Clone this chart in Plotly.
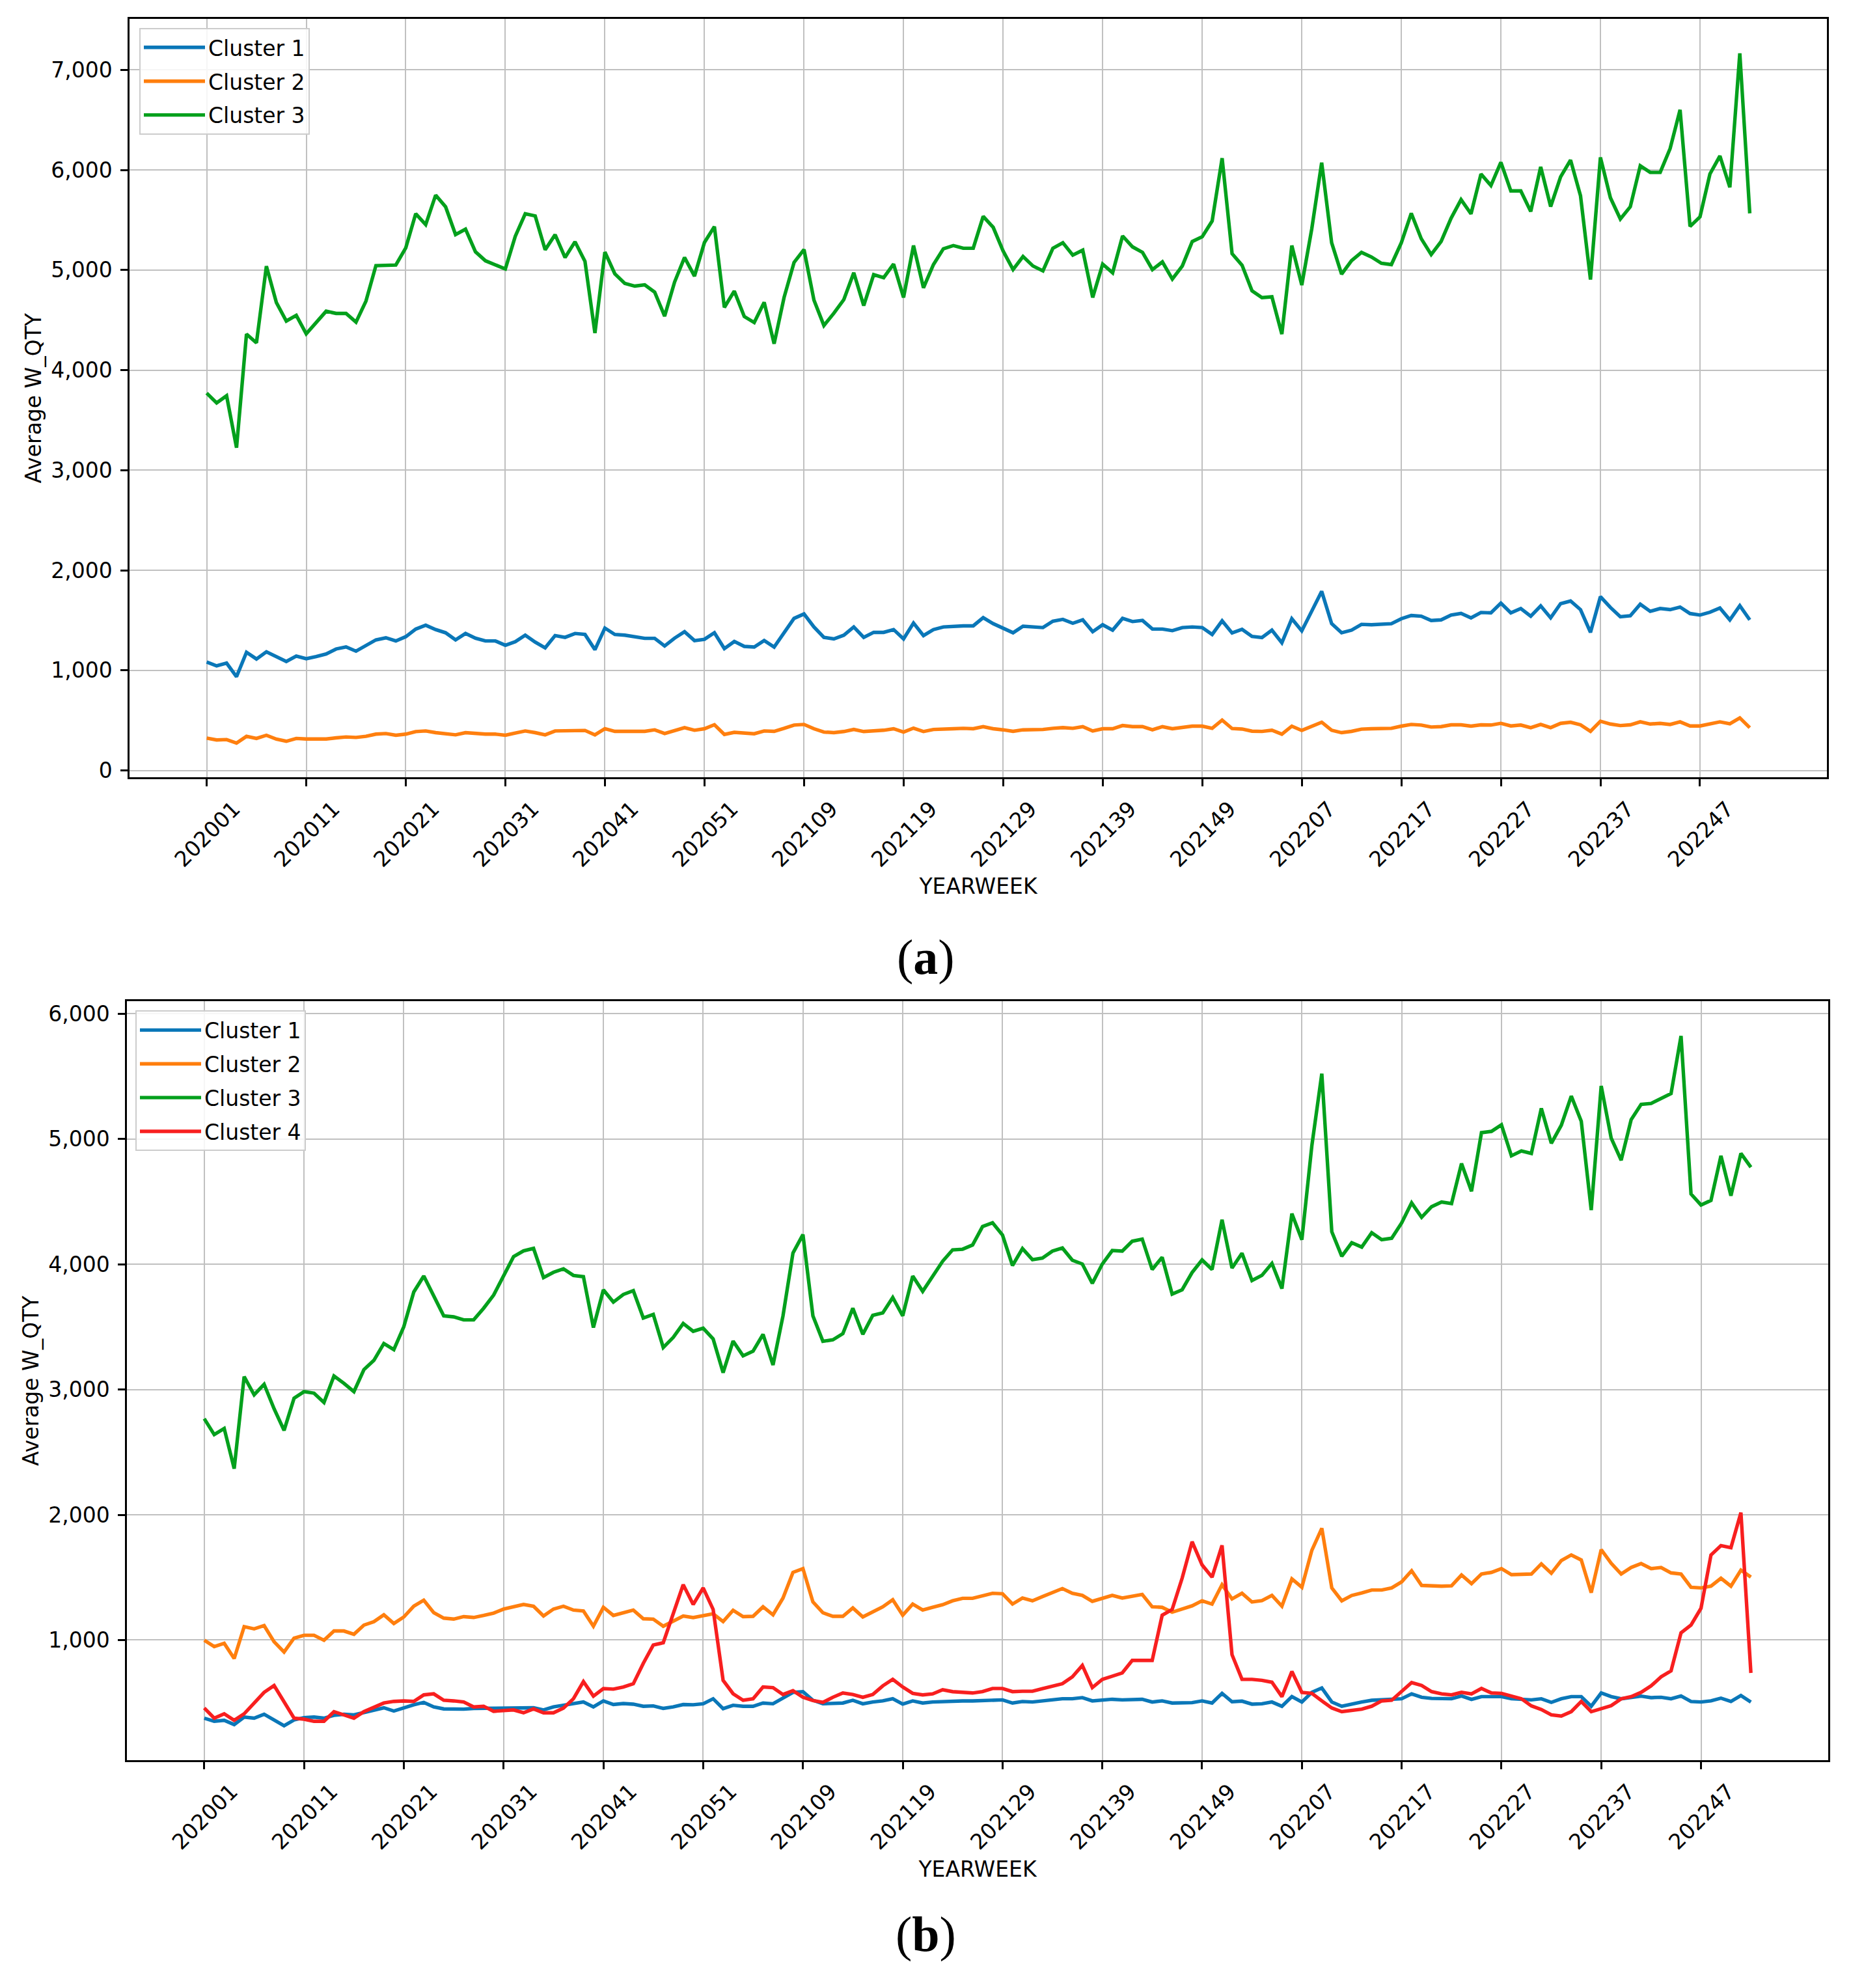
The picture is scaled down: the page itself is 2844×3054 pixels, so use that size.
import plotly.graph_objects as go

# ---------------- data ----------------
weeks = [f"{y}{w:02d}" for y in (2020, 2021, 2022) for w in range(1, 53)]
tick_labels = ["202001", "202011", "202021", "202031", "202041", "202051",
               "202109", "202119", "202129", "202139", "202149",
               "202207", "202217", "202227", "202237", "202247"]

a_cluster1 = [1084,1045,1073,937,1181,1114,1186,1136,1089,1143,
              1117,1138,1164,1214,1235,1192,1246,1305,1326,1294,
              1337,1413,1451,1408,1376,1305,1369,1322,1294,1294,
              1251,1287,1352,1283,1225,1348,1330,1369,1359,1207,
              1423,1359,1352,1333,1320,1320,1244,1322,1387,1298,
              1311,1376,1218,1289,1240,1233,1298,1233,1380,1520,
              1564,1434,1330,1315,1352,1434,1330,1380,1380,1408,
              1315,1473,1348,1408,1434,1443,1445,1445,1527,1467,
              1419,1376,1441,1434,1428,1492,1510,1471,1505,1387,
              1456,1402,1520,1488,1499,1413,1413,1397,1428,1434,
              1428,1359,1495,1374,1410,1339,1328,1402,1276,1516,
              1395,1592,1790,1467,1376,1402,1460,1456,1460,1467,
              1516,1549,1542,1499,1505,1553,1570,1525,1579,1575,
              1672,1575,1618,1542,1644,1525,1667,1693,1607,1380,
              1737,1629,1536,1546,1661,1590,1618,1607,1633,1568,
              1553,1581,1624,1505,1646,1505]
a_cluster2 = [324,305,309,274,341,320,352,313,292,320,
              315,313,315,326,335,330,341,363,369,352,
              363,389,395,378,369,356,378,369,363,363,
              352,374,395,378,356,395,395,400,400,356,
              417,391,395,391,391,406,369,400,428,402,
              417,457,360,381,374,367,395,391,421,454,
              460,417,384,378,389,410,389,395,402,417,
              384,423,389,410,417,417,421,417,438,417,
              406,391,406,406,410,421,428,421,438,395,
              417,417,449,438,438,406,438,417,432,443,
              443,421,503,419,414,393,390,402,363,443,
              400,443,482,402,378,391,413,417,417,421,
              443,460,454,434,438,456,456,443,456,454,
              471,445,454,428,460,428,471,482,456,391,
              492,464,449,456,486,464,471,460,486,445,
              445,464,486,467,525,428]
a_cluster3 = [3771,3673,3744,3226,4360,4273,5039,4676,4491,4548,
              4363,4472,4589,4567,4567,4480,4690,5044,5050,5050,
              5222,5563,5454,5749,5632,5354,5409,5183,5093,5055,
              5011,5338,5563,5541,5203,5354,5125,5283,5087,4371,
              5180,4963,4867,4840,4853,4780,4540,4880,5126,4940,
              5276,5434,4627,4790,4536,4476,4678,4264,4727,5076,
              5205,4700,4446,4569,4705,4973,4645,4954,4924,5060,
              4727,5245,4823,5055,5213,5245,5218,5218,5537,5428,
              5191,5005,5136,5041,4992,5218,5273,5150,5199,4727,
              5060,4973,5341,5232,5177,5005,5082,4910,5041,5286,
              5333,5491,6118,5164,5049,4793,4725,4733,4360,5245,
              4850,5409,6074,5273,4959,5095,5177,5131,5068,5055,
              5273,5567,5314,5155,5286,5518,5704,5562,5960,5845,
              6077,5791,5791,5586,6031,5635,5932,6099,5742,4905,
              6126,5723,5510,5633,6042,5976,5976,6214,6601,5436,
              5532,5960,6140,5827,7166,5567]

b_cluster1 = [376,351,359,325,385,376,407,359,316,362,
              380,385,376,399,407,402,423,442,459,433,
              459,483,502,466,450,448,448,454,454,459,
              459,459,459,459,442,466,479,493,505,466,
              514,485,493,488,471,474,454,466,485,483,
              491,531,452,479,471,471,497,491,540,582,
              588,519,491,491,497,519,491,505,514,531,
              488,514,497,505,509,514,514,514,517,519,
              522,497,509,505,514,519,531,531,540,514,
              522,527,522,527,527,505,514,497,497,500,
              514,497,574,507,512,488,491,505,471,548,
              505,582,617,505,471,491,505,519,522,526,
              531,570,543,534,531,531,553,526,548,548,
              548,531,526,522,531,502,531,548,548,471,
              577,548,531,540,552,540,543,531,553,509,
              505,514,536,509,557,505]
b_cluster2 = [998,947,974,852,1107,1089,1115,986,904,1015,
              1038,1038,998,1072,1072,1046,1119,1146,1201,1132,
              1184,1270,1318,1218,1175,1167,1187,1180,1196,1215,
              1247,1265,1284,1270,1192,1247,1270,1239,1232,1110,
              1261,1196,1218,1239,1170,1167,1110,1155,1192,1179,
              1192,1210,1147,1237,1187,1189,1265,1201,1335,1540,
              1570,1304,1218,1189,1189,1256,1184,1227,1265,1321,
              1198,1287,1239,1261,1282,1313,1333,1333,1351,1373,
              1369,1287,1335,1313,1347,1376,1411,1373,1356,1309,
              1333,1356,1335,1352,1364,1265,1261,1222,1244,1273,
              1313,1287,1442,1328,1373,1304,1314,1356,1270,1488,
              1421,1716,1892,1416,1313,1356,1376,1399,1399,1416,
              1464,1553,1436,1430,1430,1433,1519,1450,1527,1540,
              1570,1522,1527,1527,1608,1533,1634,1679,1639,1378,
              1722,1613,1527,1579,1610,1570,1579,1536,1527,1421,
              1416,1430,1493,1430,1558,1502]
b_cluster3 = [2767,2640,2689,2368,3103,2958,3042,2846,2674,2931,
              2983,2971,2897,3108,3049,2983,3159,3233,3367,3318,
              3502,3779,3906,3740,3588,3580,3556,3556,3649,3754,
              3911,4061,4107,4127,3894,3936,3963,3911,3901,3495,
              3796,3698,3759,3789,3571,3600,3335,3416,3527,3465,
              3490,3404,3135,3387,3269,3306,3441,3196,3588,4090,
              4237,3588,3385,3397,3446,3649,3441,3593,3612,3735,
              3588,3906,3784,3901,4024,4115,4120,4154,4301,4331,
              4233,3990,4125,4037,4049,4105,4130,4032,4002,3848,
              4002,4110,4105,4184,4201,3958,4056,3762,3796,3934,
              4035,3958,4355,3970,4088,3870,3912,4007,3806,4404,
              4196,4946,5522,4260,4064,4172,4137,4252,4196,4208,
              4330,4490,4375,4460,4497,4485,4804,4583,5051,5061,
              5113,4866,4905,4885,5245,4966,5110,5343,5142,4432,
              5424,5007,4831,5154,5277,5284,5326,5363,5823,4561,
              4473,4510,4866,4547,4885,4775]
b_cluster4 = [457,376,411,359,411,497,582,637,505,376,
              368,351,351,428,402,376,428,466,497,510,
              514,510,562,570,519,514,505,466,471,431,
              436,442,419,450,419,419,457,531,668,552,
              612,608,625,651,814,960,978,1210,1442,1284,
              1416,1244,678,571,519,531,625,620,565,596,
              543,517,502,543,577,565,543,565,634,686,
              625,574,562,570,603,588,582,577,588,613,
              613,588,591,591,612,629,651,706,797,620,
              686,711,737,837,837,837,1198,1244,1493,1785,
              1600,1502,1756,883,686,686,678,663,548,749,
              582,574,514,457,428,440,448,471,514,519,
              591,660,637,588,570,562,582,570,613,577,
              574,553,531,474,445,402,393,428,509,428,
              454,476,531,548,582,634,706,754,1058,1120,
              1253,1679,1754,1737,2017,737]

names = ["Cluster 1", "Cluster 2", "Cluster 3", "Cluster 4"]
colors = ["#0a77b8", "#ff7f0e", "#03a01c", "#f81f1f"]

# ---------------- figure ----------------
W, H = 2844, 3054
FONT = "DejaVu Sans"
FS = 33
LW = 5.4

fig = go.Figure()

panel_a = [a_cluster1, a_cluster2, a_cluster3]
panel_b = [b_cluster1, b_cluster2, b_cluster3, b_cluster4]

for k, ys in enumerate(panel_a):
    fig.add_trace(go.Scatter(x=weeks, y=ys, mode="lines", name=names[k],
                             line=dict(color=colors[k], width=LW),
                             xaxis="x", yaxis="y", legend="legend",
                             legendgroup=f"a{k}"))
for k, ys in enumerate(panel_b):
    fig.add_trace(go.Scatter(x=weeks, y=ys, mode="lines", name=names[k],
                             line=dict(color=colors[k], width=LW),
                             xaxis="x2", yaxis="y2", legend="legend2",
                             legendgroup=f"b{k}"))


def yrange(series):
    lo = min(min(s) for s in series)
    hi = max(max(s) for s in series)
    pad = (hi - lo) * 0.05
    return [lo - pad, hi + pad]


n = len(weeks)
xr = [-0.05 * (n - 1), (n - 1) * 1.05]

common_x = dict(type="category", range=xr, tickmode="array",
                tickvals=tick_labels, ticktext=tick_labels,
                tickangle=-45, ticklabelshift=42, ticklabelstandoff=2,
                ticks="outside", ticklen=11, tickwidth=2.5, tickcolor="black",
                showgrid=True, gridcolor="#c0c0c0", gridwidth=2.4,
                showline=True, linecolor="black", linewidth=2.5, mirror=True,
                zeroline=False,
                tickfont=dict(family=FONT, size=FS, color="black"),
                title=dict(text="YEARWEEK", font=dict(family=FONT, size=FS, color="black"),
                           standoff=12))
common_y = dict(tickmode="linear", dtick=1000, tick0=0, tickformat=",d",
                ticks="outside", ticklen=11, tickwidth=2.5, tickcolor="black",
                ticklabelstandoff=6,
                showgrid=True, gridcolor="#c0c0c0", gridwidth=2.4,
                showline=True, linecolor="black", linewidth=2.5, mirror=True,
                zeroline=False,
                tickfont=dict(family=FONT, size=FS, color="black"),
                title=dict(text="Average W_QTY", font=dict(family=FONT, size=FS, color="black"),
                           standoff=5))

legend_common = dict(xanchor="left", yanchor="top",
                     bgcolor="rgba(255,255,255,0.85)", bordercolor="#cccccc", borderwidth=2,
                     font=dict(family=FONT, size=FS, color="black"),
                     tracegroupgap=6, itemwidth=94)

fig.update_layout(
    width=W, height=H,
    margin=dict(l=0, r=0, t=0, b=0),
    paper_bgcolor="white", plot_bgcolor="white",
    font=dict(family=FONT, size=FS, color="black"),
    xaxis=dict(domain=[199 / W, 2807 / W], anchor="y", **common_x),
    yaxis=dict(domain=[1 - 1198 / H, 1 - 29 / H], anchor="x",
               range=yrange(panel_a), **common_y),
    xaxis2=dict(domain=[195 / W, 2809 / W], anchor="y2", **common_x),
    yaxis2=dict(domain=[1 - 2712 / H, 1 - 1543 / H], anchor="x2",
                range=yrange(panel_b), **common_y),
    legend=dict(x=214 / W, y=1 - 43 / H, **legend_common),
    legend2=dict(x=208 / W, y=1 - 1557 / H, **legend_common),
    showlegend=True,
    annotations=[
        dict(text="(<b>a</b>)", x=1422 / W, y=1 - 1475 / H, xref="paper", yref="paper",
             xanchor="center", yanchor="middle", showarrow=False,
             font=dict(family="Liberation Serif", size=76, color="black")),
        dict(text="(<b>b</b>)", x=1422 / W, y=1 - 2980 / H, xref="paper", yref="paper",
             xanchor="center", yanchor="middle", showarrow=False,
             font=dict(family="Liberation Serif", size=76, color="black")),
    ],
)

fig.write_html("out.html")
